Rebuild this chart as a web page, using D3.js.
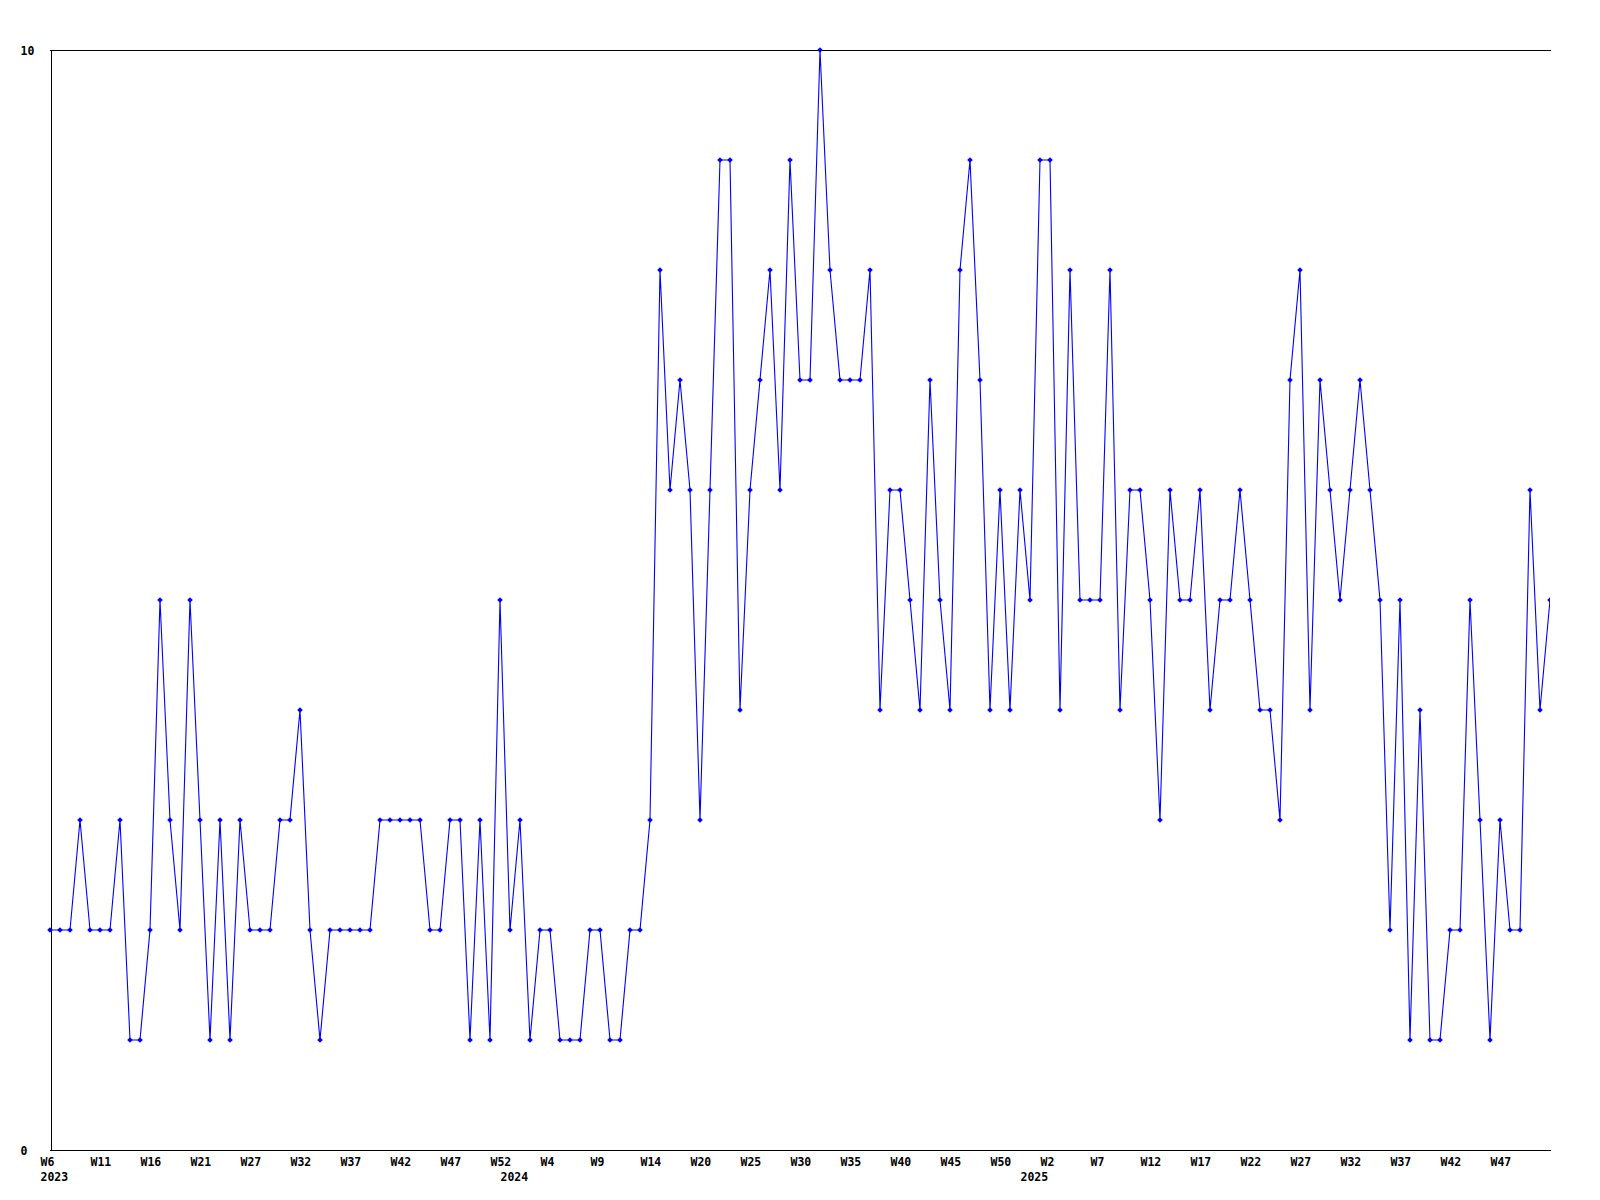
<!DOCTYPE html>
<html>
<head>
<meta charset="utf-8">
<script src="https://cdn.jsdelivr.net/npm/d3@7"></script>
<style>
  html, body { margin: 0; padding: 0; background: #ffffff; }
  svg { display: block; }
  .lbl { font-family: "DejaVu Sans Mono", "Liberation Mono", monospace; font-weight: bold; font-size: 11.5px; fill: #000; }
</style>
</head>
<body>
<script>
// ---- data ----
const values = [
  2,2,2,3,2,2,2,3,1,1, 2,5,3,2,5,3,1,3,1,3,
  2,2,2,3,3,4,2,1,2,2, 2,2,2,3,3,3,3,3,2,2,
  3,3,1,3,1,5,2,3,1,2, 2,1,1,1,2,2,1,1,2,2,
  3,8,6,7,6,3,6,9,9,4, 6,7,8,6,9,7,7,10,8,7,
  7,7,8,4,6,6,5,4,7,5, 4,8,9,7,4,6,4,6,5,9,
  9,4,8,5,5,5,8,4,6,6, 5,3,6,5,5,6,4,5,5,6,
  5,4,4,3,7,8,4,7,6,5, 6,7,6,5,2,5,1,4,1,1,
  2,2,5,3,1,3,2,2,6,4, 5
];
const weekTickIndex = [0,5,10,15,20,25,30,35,40,45,50,55,60,65,70,75,80,85,90,95,100,105,110,115,120,125,130,135,140,145];
const weekTickLabels = ["W6","W11","W16","W21","W27","W32","W37","W42","W47","W52","W4","W9","W14","W20","W25","W30","W35","W40","W45","W50","W2","W7","W12","W17","W22","W27","W32","W37","W42","W47"];
const yearTickIndex = [0,46,98];
const yearTickLabels = ["2023","2024","2025"];
const yTicks = [0,10];

// ---- layout ----
const W = 1600, H = 1200;
const mLeft = 50, mRight = 1550, mTop = 50, mBottom = 1150;

const svg = d3.select("body").append("svg").attr("width", W).attr("height", H);

const x = d3.scaleLinear().domain([0, values.length - 1]).range([mLeft, mRight]);
const y = d3.scaleLinear().domain([0, 10]).range([mBottom, mTop]);

svg.append("defs").append("clipPath").attr("id", "plotclip")
  .append("rect").attr("x", mLeft - 5).attr("y", mTop - 5)
  .attr("width", mRight - mLeft + 5).attr("height", mBottom - mTop + 10);

// top border
svg.append("line")
  .attr("x1", mLeft).attr("x2", mRight + 1)
  .attr("y1", y(10) + 0.5).attr("y2", y(10) + 0.5)
  .attr("stroke", "#000").attr("stroke-width", 1).attr("shape-rendering", "crispEdges");

// y axis
const yAxis = svg.append("g")
  .attr("transform", `translate(${mLeft + 0.5},0)`)
  .call(d3.axisLeft(y).tickValues(yTicks).tickSize(0).tickSizeOuter(0).tickFormat(d3.format("d")));
yAxis.attr("font-family", null).attr("font-size", null);
yAxis.select(".domain").attr("stroke", "#000").attr("shape-rendering", "crispEdges");
yAxis.selectAll("text")
  .attr("class", "lbl")
  .attr("text-anchor", "start")
  .attr("x", 20 - mLeft)
  .attr("dy", "0.35em");

// x axis (weeks)
const xAxis = svg.append("g")
  .attr("transform", `translate(0,${mBottom + 0.5})`)
  .call(d3.axisBottom(x).tickValues(weekTickIndex).tickSize(0).tickSizeOuter(0)
    .tickFormat((d, i) => weekTickLabels[i]));
xAxis.attr("font-family", null).attr("font-size", null);
xAxis.select(".domain").attr("stroke", "#000").attr("shape-rendering", "crispEdges")
  .attr("d", `M${mLeft},0H${mRight + 1}`);
xAxis.selectAll("text")
  .attr("class", "lbl")
  .attr("text-anchor", "start")
  .attr("x", -10)
  .attr("y", 15)
  .attr("dy", 0);

// x axis (years)
const yearAxis = svg.append("g")
  .attr("transform", `translate(0,${mBottom + 0.5})`)
  .call(d3.axisBottom(x).tickValues(yearTickIndex).tickSize(0).tickSizeOuter(0)
    .tickFormat((d, i) => yearTickLabels[i]));
yearAxis.attr("font-family", null).attr("font-size", null);
yearAxis.select(".domain").remove();
yearAxis.selectAll("text")
  .attr("class", "lbl")
  .attr("text-anchor", "start")
  .attr("x", -10)
  .attr("y", 30)
  .attr("dy", 0);

// series line
const g = svg.append("g").attr("clip-path", "url(#plotclip)");
const line = d3.line().x((d, i) => x(i)).y(d => y(d));
g.append("path")
  .datum(values)
  .attr("d", line)
  .attr("fill", "none")
  .attr("stroke", "#0000ff")
  .attr("stroke-width", 1.1);

// markers (small diamonds)
g.selectAll("path.mk")
  .data(values)
  .enter().append("path")
  .attr("class", "mk")
  .attr("d", (d, i) => {
    const cx = x(i), cy = y(d), r = 2.8;
    return `M${cx},${cy - r}L${cx + r},${cy}L${cx},${cy + r}L${cx - r},${cy}Z`;
  })
  .attr("fill", "#0000ff");
</script>
</body>
</html>
